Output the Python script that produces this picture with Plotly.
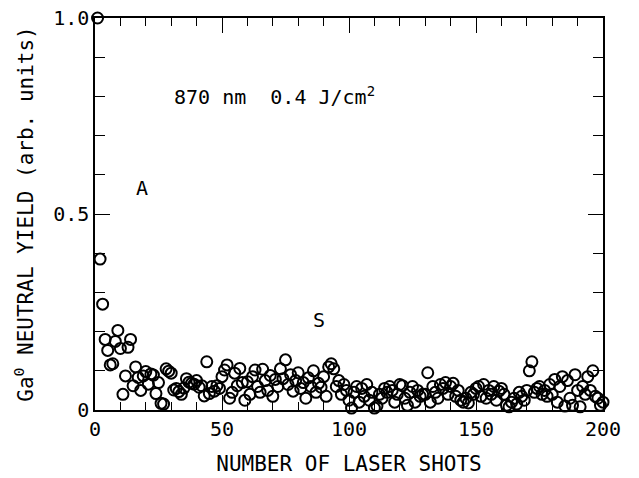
import plotly.graph_objects as go

# Neutral Ga yield per laser shot (870 nm, 0.4 J/cm^2)
shots = list(range(1, 201))
yield_vals = [
    1.0, 0.385, 0.27, 0.18, 0.152, 0.115, 0.118, 0.175, 0.203, 0.157,
    0.04, 0.087, 0.16, 0.18, 0.062, 0.11, 0.083, 0.05, 0.087, 0.098,
    0.066, 0.092, 0.089, 0.042, 0.07, 0.017, 0.015, 0.105, 0.099, 0.094,
    0.051, 0.055, 0.047, 0.04, 0.056, 0.08, 0.071, 0.068, 0.066, 0.075,
    0.058, 0.062, 0.036, 0.123, 0.042, 0.06, 0.048, 0.062, 0.055, 0.085,
    0.102, 0.115, 0.03, 0.045, 0.094, 0.062, 0.106, 0.07, 0.025, 0.072,
    0.04, 0.085, 0.102, 0.06, 0.045, 0.104, 0.075, 0.05, 0.088, 0.035,
    0.078, 0.06, 0.105, 0.08, 0.128, 0.065, 0.09, 0.048, 0.075, 0.095,
    0.055, 0.07, 0.03, 0.082, 0.06, 0.1, 0.045, 0.068, 0.058, 0.085,
    0.035, 0.11, 0.118, 0.105, 0.06, 0.075, 0.04, 0.065, 0.05, 0.025,
    0.005, 0.045, 0.06, 0.02, 0.055, 0.035, 0.065, 0.025, 0.045, 0.005,
    0.01, 0.04, 0.03, 0.055, 0.045, 0.06, 0.05, 0.02, 0.04, 0.065,
    0.062, 0.03, 0.012, 0.045, 0.06, 0.02, 0.05, 0.035, 0.04, 0.04,
    0.095, 0.02, 0.06, 0.045, 0.03, 0.065, 0.055, 0.07, 0.04, 0.06,
    0.068, 0.035, 0.05, 0.025, 0.02, 0.03, 0.018, 0.045, 0.04, 0.055,
    0.06, 0.035, 0.065, 0.03, 0.05, 0.04, 0.06, 0.025, 0.048, 0.055,
    0.04, 0.012, 0.008, 0.02, 0.03, 0.015, 0.045, 0.035, 0.025, 0.05,
    0.1, 0.123, 0.045, 0.055, 0.06, 0.04, 0.05, 0.035, 0.065, 0.04,
    0.078, 0.02, 0.06, 0.085, 0.01, 0.075, 0.03, 0.012, 0.09, 0.05,
    0.008, 0.06, 0.04, 0.085, 0.05, 0.1, 0.035, 0.03, 0.012, 0.02,
]

x_ticks = [0, 50, 100, 150, 200]
y_ticks = [0, 0.5, 1.0]
y_tick_text = ["0", "0.5", "1.0"]

FONT = "DejaVu Sans Mono, monospace"

fig = go.Figure()
fig.add_trace(go.Scatter(
    x=shots, y=yield_vals, mode="markers",
    marker=dict(symbol="circle-open", size=11, color="black",
                line=dict(width=2, color="black")),
    cliponaxis=False, showlegend=False,
))

axis_common = dict(
    showline=True, linecolor="black", linewidth=1.5, mirror="ticks",
    ticks="inside", tickcolor="black", tickwidth=1.2, ticklen=15,
    showgrid=False, zeroline=False, automargin=False,
    tickfont=dict(family=FONT, size=20, color="black"),
)

fig.update_xaxes(
    range=[0, 200], tickvals=x_ticks,
    minor=dict(dtick=10, ticks="inside", ticklen=8, tickcolor="black", tickwidth=1.2, showgrid=False),
    title=dict(text="NUMBER OF LASER SHOTS", font=dict(family=FONT, size=21, color="black"), standoff=17),
    **axis_common,
)
fig.update_yaxes(
    range=[0, 1.0], tickvals=y_ticks, ticktext=y_tick_text,
    minor=dict(dtick=0.1, ticks="inside", ticklen=10, tickcolor="black", tickwidth=1.2, showgrid=False),
    title=dict(text="Ga<sup>0</sup> NEUTRAL YIELD (arb. units)", font=dict(family=FONT, size=21, color="black"), standoff=14),
    **axis_common,
)

fig.add_annotation(x=30.3, y=0.8, xanchor="left", text="870 nm  0.4 J/cm<sup>2</sup>", showarrow=False,
                   font=dict(family=FONT, size=20, color="black"))
fig.add_annotation(x=18.5, y=0.566, text="A", showarrow=False,
                   font=dict(family=FONT, size=20, color="black"))
fig.add_annotation(x=88, y=0.23, text="S", showarrow=False,
                   font=dict(family=FONT, size=20, color="black"))

fig.update_layout(
    width=639, height=478,
    margin=dict(l=95, r=36, t=18, b=68),
    paper_bgcolor="white", plot_bgcolor="white",
)

fig.write_html("out.html")
